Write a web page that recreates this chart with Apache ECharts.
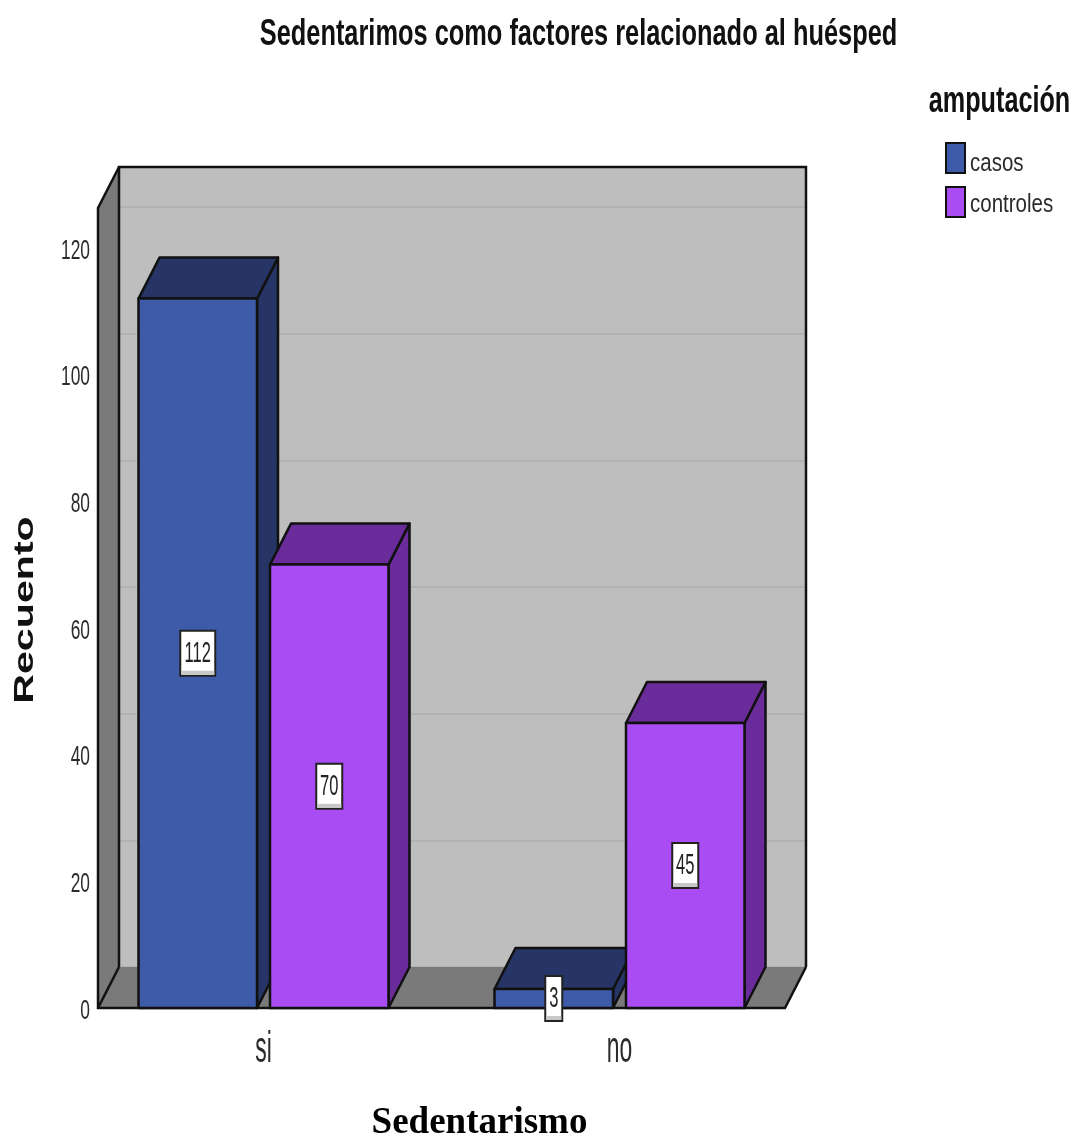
<!DOCTYPE html>
<html>
<head>
<meta charset="utf-8">
<style>html,body{margin:0;padding:0;background:#fff}#main{width:1075px;height:1137px}</style>
<script src="https://cdn.jsdelivr.net/npm/echarts@6/dist/echarts.min.js"></script>
</head>
<body>
<div id="main"></div>
<script>
// Clustered counts by sedentary habit
const categories = ['si', 'no'];
const groupNames = ['casos', 'controles'];
const casos = [112, 3];
const controles = [70, 45];
const yTicks = [0, 20, 40, 60, 80, 100, 120];
const yMax = 126.3;

// Oblique projection of the box: offset of the back plane from the front plane
const DX = 21, DY = -41;
const SANS = '"Liberation Sans", Arial, sans-serif';
const INK = '#111';

function label(text, x, y, o) {
  return {
    type: 'text', x, y,
    rotation: o.rotation || 0,
    scaleX: o.sx || 1,
    scaleY: o.sy || 1,
    silent: true,
    z2: o.z2 || 20,
    style: {
      text, x: 0, y: 0,
      align: o.align || 'center', verticalAlign: 'middle',
      fontFamily: o.family || SANS,
      fontSize: o.size, fontWeight: o.weight || 'normal',
      fill: o.fill || '#2b2b2b'
    }
  };
}

// Grey side wall, floor and outline of the open box, plus the tick labels
function renderFrame(params, api) {
  const y0 = api.coord([0, 0])[1];
  const yTop = api.coord([0, yMax])[1];
  const L = 98, R = 785;
  const edge = { stroke: INK, lineWidth: 2.5, fill: null };
  const children = [
    { type: 'polygon', shape: { points: [[L, yTop], [L + DX, yTop + DY], [L + DX, y0 + DY], [L, y0]] },
      style: { fill: '#7a7a7a', stroke: null } },
    { type: 'polygon', shape: { points: [[L, y0], [L + DX, y0 + DY], [R + DX, y0 + DY], [R, y0]] },
      style: { fill: '#7a7a7a', stroke: null } },
    { type: 'polyline', shape: { points: [[L + DX, y0 + DY], [L + DX, yTop + DY], [R + DX, yTop + DY], [R + DX, y0 + DY]] }, style: edge },
    { type: 'polyline', shape: { points: [[L + DX, yTop + DY], [L, yTop], [L, y0], [R, y0], [R + DX, y0 + DY]] }, style: edge },
    { type: 'line', shape: { x1: L, y1: y0, x2: L + DX, y2: y0 + DY }, style: edge }
  ];
  yTicks.forEach(t => {
    children.push(label(String(t), 90, api.coord([0, t])[1] + 3, { size: 28, sx: 0.62, align: 'right' }));
  });
  categories.forEach(c => {
    children.push(label(c, api.coord([c, 0])[0], y0 + 42, { size: 44, sx: 0.52 }));
  });
  return { type: 'group', children };
}

// One clustered bar: front face, top and side in a darker shade, value tag at mid height
function barRenderer(values, front, dark, slot) {
  return function (params, api) {
    const i = params.dataIndex;
    const v = values[i];
    const centre = api.coord([categories[i], 0])[0];
    const W = 118.5, GAP = 13;
    const xL = slot === 0 ? centre - GAP / 2 - W : centre + GAP / 2;
    const xR = xL + W;
    const y0 = api.coord([categories[i], 0])[1];
    const yV = api.coord([categories[i], v])[1];
    const yMid = api.coord([categories[i], v / 2])[1];
    const line = { stroke: INK, lineWidth: 2.5, lineJoin: 'round' };
    const digits = String(v).length;
    const tagW = 8 + digits * 9;
    const tagH = 45;
    const xMid = (xL + xR) / 2;
    return {
      type: 'group',
      children: [
        { type: 'polygon', shape: { points: [[xR, yV], [xR + DX, yV + DY], [xR + DX, y0 + DY], [xR, y0]] },
          style: Object.assign({ fill: dark }, line) },
        { type: 'polygon', shape: { points: [[xL, yV], [xL + DX, yV + DY], [xR + DX, yV + DY], [xR, yV]] },
          style: Object.assign({ fill: dark }, line) },
        { type: 'rect', shape: { x: xL, y: yV, width: W, height: y0 - yV },
          style: Object.assign({ fill: front }, line) },
        { type: 'rect', z2: 11, shape: { x: xMid - tagW / 2, y: yMid - tagH / 2, width: tagW, height: tagH },
          style: { fill: '#fff', stroke: '#222', lineWidth: 2 } },
        { type: 'rect', z2: 12, shape: { x: xMid - tagW / 2 + 1, y: yMid + tagH / 2 - 5, width: tagW - 2, height: 4 },
          style: { fill: '#c8c8c8' } },
        label(String(v), xMid, yMid, { size: 30, sx: 0.55, z2: 13, fill: '#222' })
      ]
    };
  };
}

const chart = echarts.init(document.getElementById('main'), null, { renderer: 'canvas' });
chart.setOption({
  animation: false,
  backgroundColor: '#fff',
  grid: [
    // front plane of the box
    { left: 85.5, top: 208, width: 712, height: 800, show: false },
    // back wall, shifted by the projection offset
    { left: 119, top: 167, width: 687, height: 800, show: true, backgroundColor: '#bebebe', borderWidth: 0 }
  ],
  xAxis: [
    { type: 'category', gridIndex: 0, data: categories, axisLine: { show: false }, axisTick: { show: false }, axisLabel: { show: false } },
    { type: 'category', gridIndex: 1, data: categories, axisLine: { show: false }, axisTick: { show: false }, axisLabel: { show: false } }
  ],
  yAxis: [
    { type: 'value', gridIndex: 0, min: 0, max: yMax, interval: 20, axisLine: { show: false }, axisTick: { show: false }, axisLabel: { show: false }, splitLine: { show: false } },
    { type: 'value', gridIndex: 1, min: 0, max: yMax, interval: 20, axisLine: { show: false }, axisTick: { show: false }, axisLabel: { show: false },
      splitLine: { show: true, lineStyle: { color: '#b2b2b2', width: 2 } } }
  ],
  legend: {
    left: 945, top: 142, padding: 0, orient: 'vertical', itemWidth: 19, itemHeight: 30, itemGap: 12,
    icon: 'rect', selectedMode: false, formatter: () => '',
    textStyle: { fontSize: 12 },
    data: [
      { name: groupNames[0], itemStyle: { color: '#3e5ba9', borderColor: INK, borderWidth: 2 } },
      { name: groupNames[1], itemStyle: { color: '#a94cf3', borderColor: INK, borderWidth: 2 } }
    ]
  },
  graphic: [
    label('Sedentarimos como factores relacionado al huésped', 578.5, 35, { size: 36, weight: 'bold', sx: 0.705, fill: '#111' }),
    label('amputación', 999.5, 102, { size: 36, weight: 'bold', sx: 0.70, fill: '#111' }),
    label(groupNames[0], 970, 164, { size: 25, sx: 0.82, align: 'left' }),
    label(groupNames[1], 970, 205, { size: 25, sx: 0.82, align: 'left' }),
    label('Recuento', 25, 610, { size: 28, weight: 'bold', sx: 1.47, rotation: Math.PI / 2, fill: '#111' }),
    label('Sedentarismo', 479.5, 1123, { size: 37, weight: 'bold', family: '"Liberation Serif", serif', fill: '#000' })
  ],
  series: [
    { name: 'frame', type: 'custom', xAxisIndex: 0, yAxisIndex: 0, data: [0], renderItem: renderFrame, silent: true, z: 1 },
    { name: groupNames[0], type: 'custom', xAxisIndex: 0, yAxisIndex: 0, data: casos, renderItem: barRenderer(casos, '#3e5ba9', '#263566', 0), z: 2, itemStyle: { color: '#3e5ba9' } },
    { name: groupNames[1], type: 'custom', xAxisIndex: 0, yAxisIndex: 0, data: controles, renderItem: barRenderer(controles, '#a94cf3', '#6a2b9b', 1), z: 3, itemStyle: { color: '#a94cf3' } }
  ]
});
</script>
</body>
</html>
